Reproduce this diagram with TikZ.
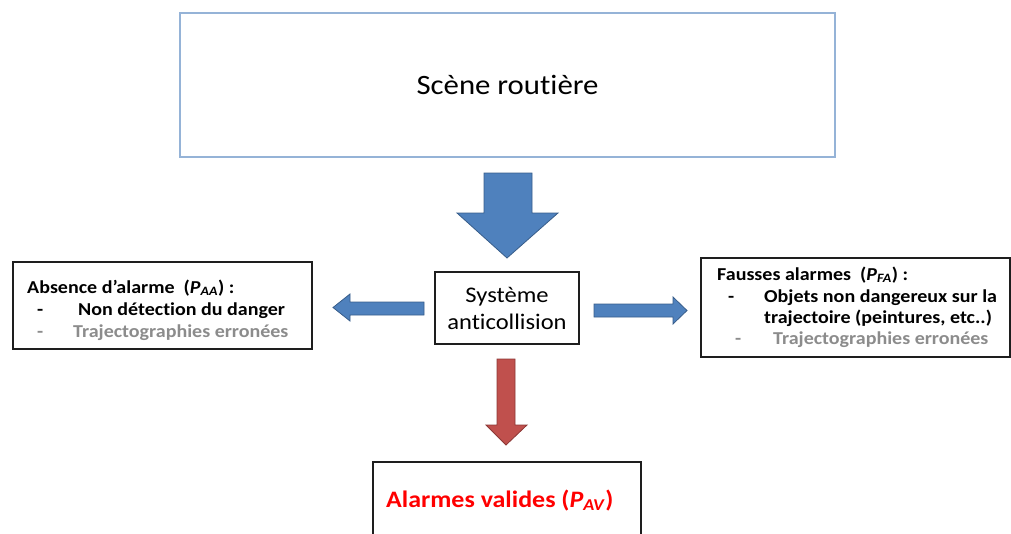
\documentclass[tikz,border=0pt]{standalone}
\usepackage{fontspec}
\setmainfont{Carlito}[FakeStretch=1.1, Ligatures=NoCommon]
\definecolor{scenecol}{RGB}{149,179,215}
\definecolor{arrowblue}{RGB}{79,129,189}
\definecolor{arrowblueb}{RGB}{56,93,138}
\definecolor{arrowred}{RGB}{192,80,77}
\definecolor{arrowredb}{RGB}{140,56,54}
\definecolor{greytxt}{RGB}{140,140,140}
\definecolor{boxline}{RGB}{30,30,30}
\newcommand\psub[2]{\textit{#1}\textsubscript{\textit{#2}}}
\tikzset{
  blockbox/.style={draw=boxline, line width=1.8pt, fill=white},
  bluearrow/.style={fill=arrowblue, draw=arrowblueb, line width=0.8pt, line join=miter},
  redarrow/.style={fill=arrowred, draw=arrowredb, line width=0.8pt, line join=miter},
  sidetxt/.style={anchor=base west, inner sep=0pt, font=\fontsize{18.2}{22}\selectfont\bfseries},
  greyline/.style={sidetxt, text=greytxt},
}
\begin{document}
\begin{tikzpicture}[x=1pt,y=-1pt]
\useasboundingbox (0,0) rectangle (1011,533);
\clip (0,0) rectangle (1011,533);
% top box
\node[draw=scenecol, line width=2pt, minimum width=655pt, minimum height=144pt, inner sep=0pt,
      font=\fontsize{28}{32}\selectfont] (scene) at (507.5,85) {Scène routière};
% big down arrow
\draw[bluearrow] (484,173) -- (532,173) -- (532,213) -- (558,213) -- (507,258) -- (457,213) -- (484,213) -- cycle;
% central box
\node[blockbox, minimum width=144pt, minimum height=72pt, inner sep=0pt, align=center,
      font=\fontsize{22.3}{27}\selectfont] (sys) at (507,308) {Système\\anticollision};
% left arrow
\draw[bluearrow] (424,302) -- (350,302) -- (350,294) -- (333,307.5) -- (350,321) -- (350,315) -- (424,315) -- cycle;
% right arrow
\draw[bluearrow] (594,304) -- (673,304) -- (673,297) -- (687,310.5) -- (673,324) -- (673,317) -- (594,317) -- cycle;
% red arrow
\draw[redarrow] (497,359) -- (515,359) -- (515,425) -- (527,425) -- (506,445) -- (486,425) -- (497,425) -- cycle;
% left box
\node[blockbox, minimum width=299pt, minimum height=87pt, inner sep=0pt] (left) at (162.5,305.5) {};
\node[sidetxt] (l1) at (27,293) {Absence d’alarme \ (\psub{P}{AA}) :};
\node[sidetxt] (l2d) at (37,315) {-};
\node[sidetxt] (l2) at (78,315) {Non détection du danger};
\node[greyline] (l3d) at (37,337) {-};
\node[greyline] (l3) at (73,337) {Trajectographies erronées};
% right box
\node[blockbox, minimum width=309pt, minimum height=99pt, inner sep=0pt] (right) at (855.5,307.5) {};
\node[sidetxt] (r1) at (717,280) {Fausses alarmes \ (\psub{P}{FA}) :};
\node[sidetxt] (r2d) at (728,302) {-};
\node[sidetxt] (r2) at (764,302) {Objets non dangereux sur la};
\node[sidetxt] (r3) at (764,323) {trajectoire (peintures, etc..)};
\node[greyline] (r4d) at (735,344) {-};
\node[greyline] (r4) at (773,344) {Trajectographies erronées};
% bottom box
\draw[blockbox] (373,462) rectangle (641,560);
\node[anchor=base west, inner sep=0pt, text=red, font=\fontsize{23.6}{28}\selectfont\bfseries] (valid) at (386,507) {Alarmes valides (\psub{P}{AV})};
\end{tikzpicture}
\end{document}
